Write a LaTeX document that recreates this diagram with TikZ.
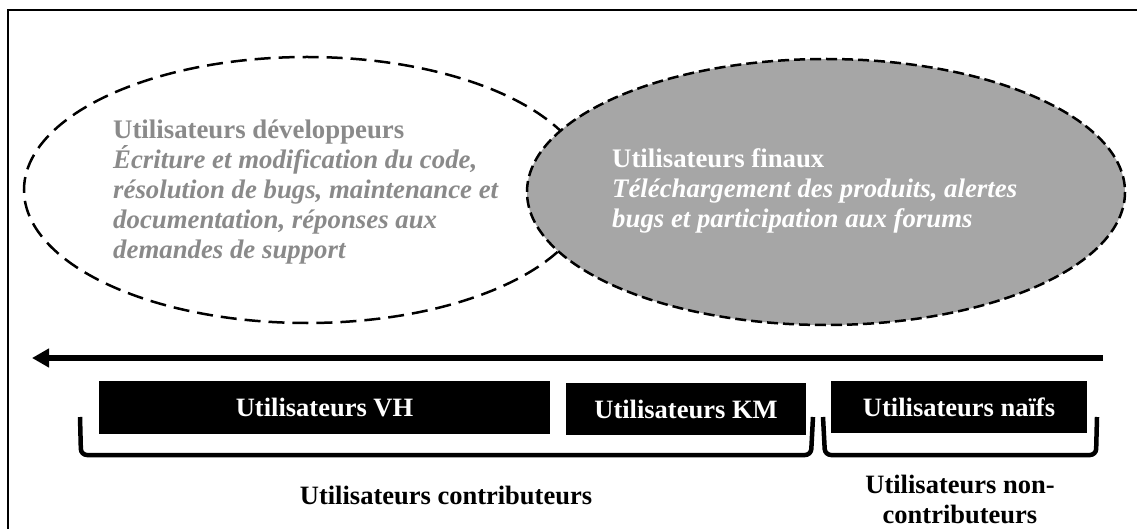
\documentclass[tikz,border=0pt]{standalone}
\usepackage{fontspec}
\setmainfont{Liberation Serif}
\usetikzlibrary{arrows.meta}
\definecolor{devgray}{HTML}{8A8A8A}
\definecolor{finfill}{HTML}{A6A6A6}
\tikzset{
  ell/.style={line width=2.5pt, dash pattern=on 16pt off 8pt},
  ellb/.style={line width=2.5pt, dash pattern=on 11pt off 5pt, fill=finfill},
  blackbox/.style={fill=black, draw=none, text=white, font=\fontsize{26.5}{30}\selectfont\bfseries, inner sep=0pt},
  brace/.style={line width=4.5pt, rounded corners=6pt},
  lbl/.style={font=\fontsize{26.5}{30}\selectfont\bfseries, align=center},
  etxt/.style={font=\fontsize{26.8}{30}\selectfont\bfseries, align=left, anchor=west, inner sep=0pt}
}
\begin{document}
\begin{tikzpicture}[x=1pt,y=-1pt]
\useasboundingbox (0,0) rectangle (1137,529);
\fill[white] (0,0) rectangle (1137,529);
% frame
\draw[line width=2pt] (8,529) -- (8,10) -- (1137,10);
% ellipses
\draw[ell] (307,190) ellipse [x radius=283, y radius=133];
\draw[ellb] (826,192) ellipse [x radius=299, y radius=133];
\node[etxt, text=devgray] (dev) at (113,192) {Utilisateurs développeurs\\\itshape Écriture et modification du code,\\\itshape résolution de bugs, maintenance et\\\itshape documentation, réponses aux\\\itshape demandes de support};
\node[etxt, text=white] (fin) at (612,191) {Utilisateurs finaux\\\itshape Téléchargement des produits, alertes\\\itshape bugs et participation aux forums};
% arrow
\coordinate (aR) at (1103,358);
\coordinate (aL) at (32,358);
\draw[line width=6pt, -{Triangle[length=17pt, width=18pt]}] (aR) -- (aL);
% boxes
\node[blackbox, minimum width=451pt, minimum height=53pt] (vh) at (324.5,407.5) {Utilisateurs VH};
\node[blackbox, minimum width=240pt, minimum height=52pt] (km) at (686,409) {Utilisateurs KM};
\node[blackbox, minimum width=256pt, minimum height=52pt] (naif) at (959,407) {Utilisateurs naïfs};
% brackets
\coordinate (b1a) at (80,417);
\coordinate (b1b) at (81,455);
\coordinate (b1c) at (811,455);
\coordinate (b1d) at (813,417);
\draw[brace] (b1a) -- (b1b) -- (b1c) -- (b1d);
\coordinate (b2a) at (823,417);
\coordinate (b2b) at (825,455);
\coordinate (b2c) at (1096,455);
\coordinate (b2d) at (1097,417);
\draw[brace] (b2a) -- (b2b) -- (b2c) -- (b2d);
% labels
\node[lbl] (contrib) at (446,495) {Utilisateurs contributeurs};
\node[lbl] (noncontrib) at (960,499) {Utilisateurs non-\\contributeurs};
\end{tikzpicture}
\end{document}
